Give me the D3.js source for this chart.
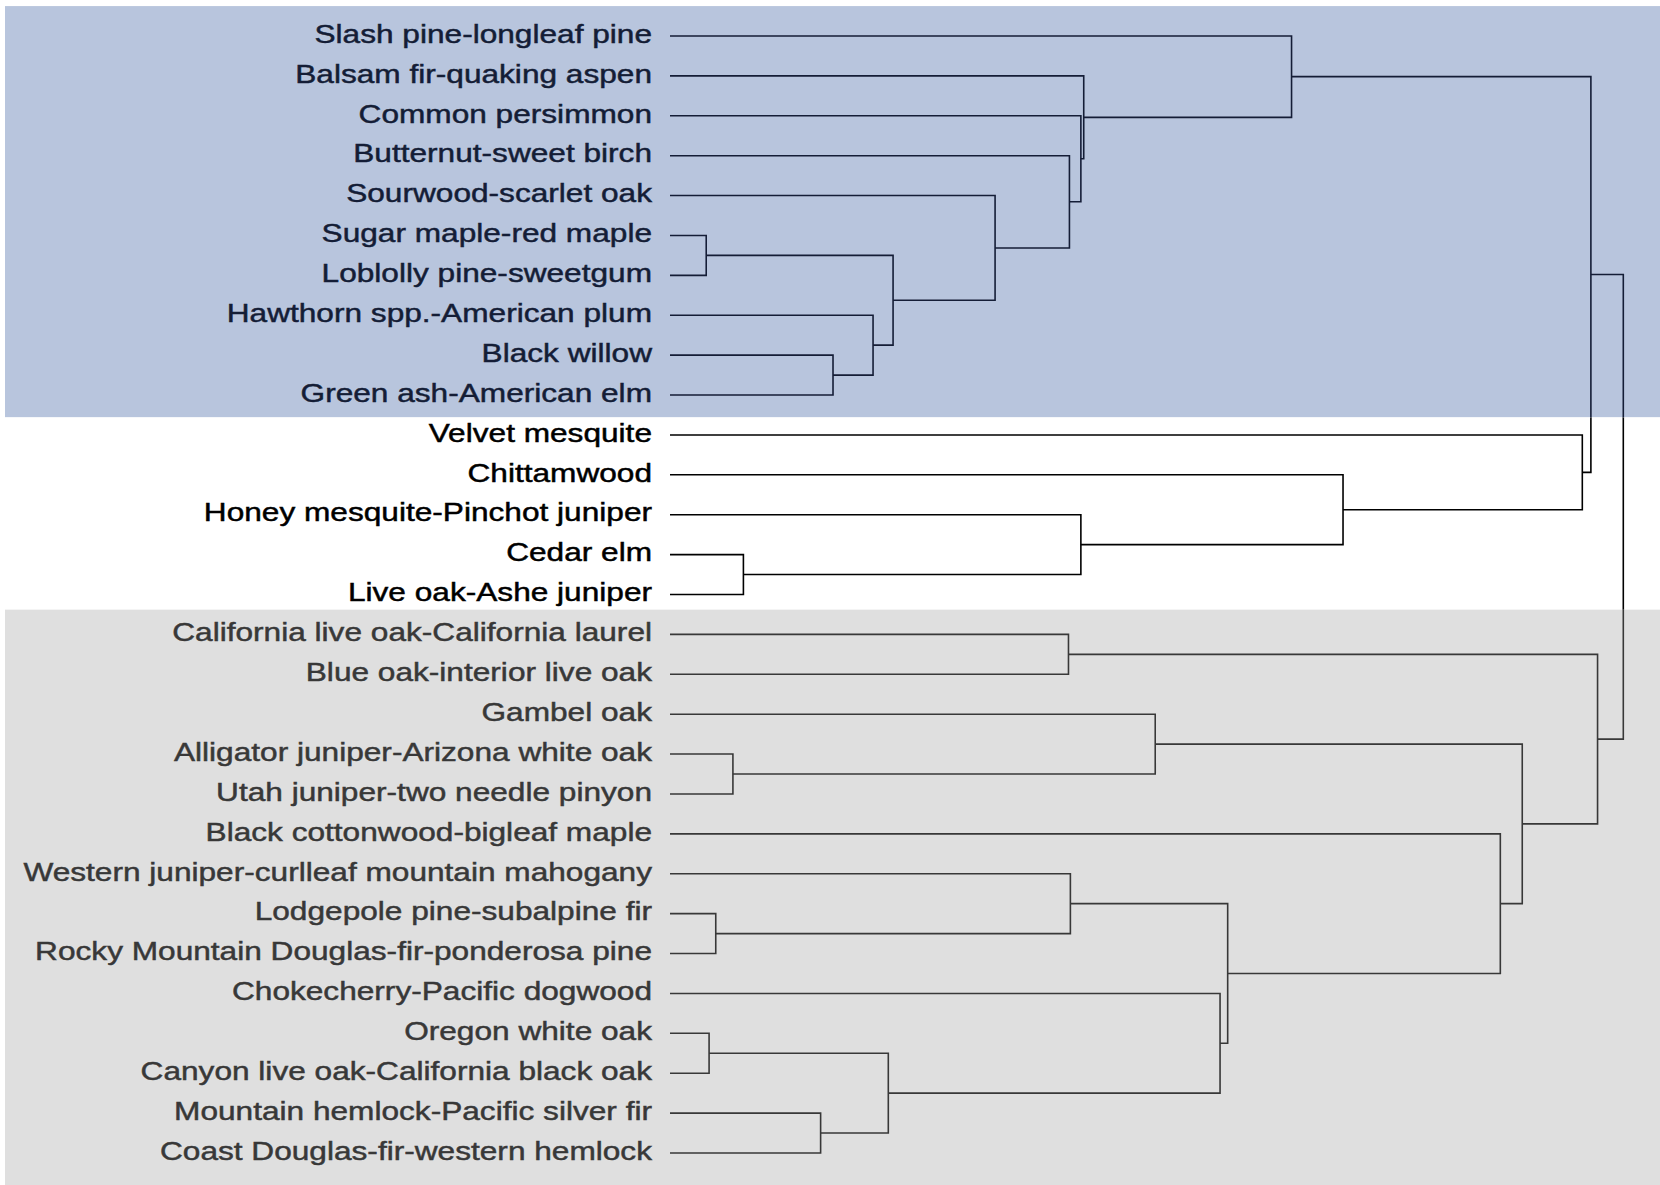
<!DOCTYPE html>
<html>
<head>
<meta charset="utf-8">
<script src="https://cdn.jsdelivr.net/npm/d3@7"></script>
<style>
  html, body { margin: 0; padding: 0; background: #ffffff; }
  svg { display: block; }
</style>
</head>
<body>
<svg id="chart" width="1660" height="1185"></svg>
<script>
// Forest-type groups, listed top to bottom in dendrogram leaf order
const leafNames = [
  "Slash pine-longleaf pine",
  "Balsam fir-quaking aspen",
  "Common persimmon",
  "Butternut-sweet birch",
  "Sourwood-scarlet oak",
  "Sugar maple-red maple",
  "Loblolly pine-sweetgum",
  "Hawthorn spp.-American plum",
  "Black willow",
  "Green ash-American elm",
  "Velvet mesquite",
  "Chittamwood",
  "Honey mesquite-Pinchot juniper",
  "Cedar elm",
  "Live oak-Ashe juniper",
  "California live oak-California laurel",
  "Blue oak-interior live oak",
  "Gambel oak",
  "Alligator juniper-Arizona white oak",
  "Utah juniper-two needle pinyon",
  "Black cottonwood-bigleaf maple",
  "Western juniper-curlleaf mountain mahogany",
  "Lodgepole pine-subalpine fir",
  "Rocky Mountain Douglas-fir-ponderosa pine",
  "Chokecherry-Pacific dogwood",
  "Oregon white oak",
  "Canyon live oak-California black oak",
  "Mountain hemlock-Pacific silver fir",
  "Coast Douglas-fir-western hemlock"
];

// Regional cluster each leaf belongs to
const leafRegion = [
  "east", "east", "east", "east", "east", "east", "east", "east", "east", "east",
  "plains", "plains", "plains", "plains", "plains",
  "west", "west", "west", "west", "west", "west", "west",
  "west", "west", "west", "west", "west", "west", "west"
];

// Agglomeration table (hclust convention): a negative entry -k is leaf k (1-based),
// a positive entry m refers to the cluster formed at merge step m.
const mergeLeft   = [ -6, -26, -23, -19, -14, -28,  -9, -8,  2,  1,  -5, -16,  -4, -22,  -3, -13,  -2, -18, -25, 14,  -1, -12, -21, 18, -11, 21, 12, 26];
const mergeRight  = [ -7, -27, -24, -20, -15, -29, -10,  7,  6,  8,  10, -17,  11,   3,  13,   5,  15,   4,   9, 19,  17,  16,  20, 23,  22, 25, 24, 27];
const mergeHeight = [0.038, 0.041, 0.048, 0.066, 0.077, 0.158, 0.171, 0.213, 0.229, 0.234,
                     0.341, 0.418, 0.419, 0.420, 0.431, 0.431, 0.434, 0.509, 0.577, 0.585,
                     0.652, 0.706, 0.871, 0.894, 0.957, 0.966, 0.973, 1.000];

// Drawing styles
const W = 1660, H = 1185;
const regionFill = { east: "#b8c5dd", plains: "#ffffff", west: "#dfdfdf" };
const regionInk  = { east: "#141d36", plains: "#000000", west: "#383838" };
// band padding above the first leaf / below the last leaf, in leaf steps
const regionPad  = { east: [0.75, 0.56], plains: [0.44, 0.38], west: [0.62, 0.8] };
const fontFamily = "'Liberation Sans', Arial, Helvetica, sans-serif";
const fontSize = 25;
const textStretch = 1.265;
const labelRight = 652;

const svg = d3.select("#chart");

// Scales: leaves along y, merge height along x
const y = d3.scalePoint().domain(leafNames).range([36, 1153]);
const x = d3.scaleLinear().domain([0, 1]).range([670, 1623.3]);
const step = y.step();

// Build the tree from the merge table
const leafNodes = leafNames.map((name, i) => ({ name, region: leafRegion[i], height: 0 }));
const mergeNodes = [];
const ref = k => (k < 0 ? leafNodes[-k - 1] : mergeNodes[k - 1]);
mergeHeight.forEach((h, i) => {
  mergeNodes.push({ height: h, children: [ref(mergeLeft[i]), ref(mergeRight[i])] });
});
const root = d3.hierarchy(mergeNodes[mergeNodes.length - 1]);

// Leaves sit on their row; each merge sits midway between its two branches
root.eachAfter(d => {
  d.px = x(d.data.height);
  d.py = d.children ? d3.mean(d.children, c => c.py) : y(d.data.name);
});

// Region bands spanning consecutive leaves
const regions = Array.from(new Set(leafRegion));
const bands = regions.map((r, i) => {
  const idx = leafRegion.map((g, j) => (g === r ? j : -1)).filter(j => j >= 0);
  const first = d3.min(idx), last = d3.max(idx);
  const y0 = y(leafNames[first]) - regionPad[r][0] * step;
  const y1 = i === regions.length - 1 ? H : y(leafNames[last]) + regionPad[r][1] * step;
  return { region: r, y0, y1 };
});

const defs = svg.append("defs");
bands.forEach(b => {
  defs.append("clipPath").attr("id", "clip-" + b.region)
    .append("rect").attr("x", 0).attr("y", b.y0).attr("width", W).attr("height", b.y1 - b.y0);
});

svg.append("g").selectAll("rect")
  .data(bands)
  .join("rect")
  .attr("x", 5)
  .attr("y", d => d.y0)
  .attr("width", W - 5)
  .attr("height", d => d.y1 - d.y0)
  .attr("fill", d => regionFill[d.region]);

// Elbow links: each merge joins its two branches with a bracket
const merges = root.descendants().filter(d => d.children);
const elbow = d => {
  const [a, b] = d.children;
  return `M${a.px},${a.py}H${d.px}V${b.py}H${b.px}`;
};

bands.forEach(b => {
  svg.append("g")
    .attr("clip-path", `url(#clip-${b.region})`)
    .selectAll("path")
    .data(merges)
    .join("path")
    .attr("d", elbow)
    .attr("fill", "none")
    .attr("stroke", regionInk[b.region])
    .attr("stroke-width", 1.6)
    .attr("stroke-linejoin", "miter");
});

// Leaf labels
svg.append("g").selectAll("text")
  .data(root.leaves())
  .join("text")
  .attr("transform", d => `translate(${labelRight},${d.py}) scale(${textStretch},1)`)
  .attr("text-anchor", "end")
  .attr("dy", "0.27em")
  .attr("font-family", fontFamily)
  .attr("font-size", fontSize)
  .attr("fill", d => regionInk[d.data.region])
  .attr("stroke", d => regionInk[d.data.region])
  .attr("stroke-width", 0.45)
  .text(d => d.data.name);
</script>
</body>
</html>
